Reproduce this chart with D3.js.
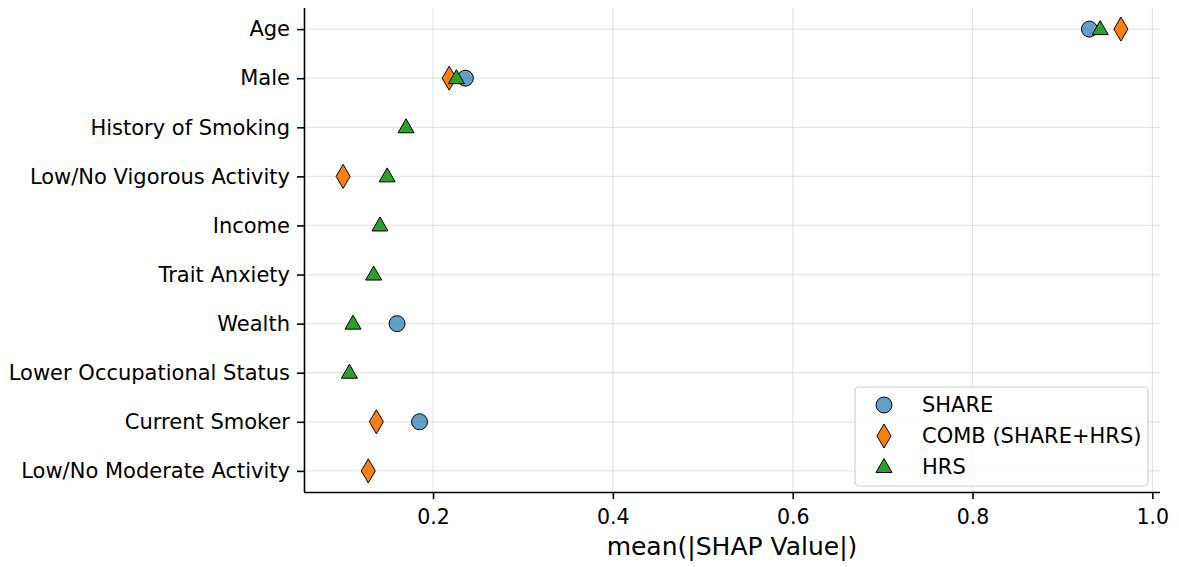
<!DOCTYPE html>
<html>
<head>
<meta charset="utf-8">
<script src="https://cdn.jsdelivr.net/npm/d3@7"></script>
<style>
  body { margin: 0; background: #fff; }
  text { font-family: "DejaVu Sans", sans-serif; fill: #000; }
</style>
</head>
<body>
<div id="viz"></div>
<script>
// features, top to bottom
var features = ['Age', 'Male', 'History of Smoking', 'Low/No Vigorous Activity', 'Income',
  'Trait Anxiety', 'Wealth', 'Lower Occupational Status', 'Current Smoker', 'Low/No Moderate Activity'];

// mean |SHAP| per cohort (null = not in that model's top list)
var shareVals = [0.930, 0.236, null, null, null, null, 0.160, null, 0.185, null];
var combVals  = [0.965, 0.218, null, 0.100, null, null, null, null, 0.137, 0.128];
var hrsVals   = [0.942, 0.226, 0.170, 0.149, 0.141, 0.134, 0.111, 0.107, null, null];

var xTicks = [0.2, 0.4, 0.6, 0.8, 1.0];
var seriesNames = ['SHARE', 'COMB (SHARE+HRS)', 'HRS'];

var w = 1179, h = 567;
var m = {top: 8, right: 19, bottom: 75, left: 304};

var svg = d3.select('#viz').append('svg')
  .attr('width', w)
  .attr('height', h);

var x = d3.scaleLinear()
  .domain([0.0565, 1.0085])
  .range([m.left, w - m.right]);

var y = d3.scalePoint()
  .domain(features)
  .range([m.top, h - m.bottom])
  .padding(0.43);

// grid
var g = svg.append('g');
g.selectAll('.vgrid').data(xTicks).enter().append('line')
  .attr('x1', d => x(d)).attr('x2', d => x(d))
  .attr('y1', m.top).attr('y2', h - m.bottom)
  .attr('stroke', '#b0b0b0').attr('stroke-opacity', 0.3).attr('stroke-width', 1.2);
g.selectAll('.hgrid').data(features).enter().append('line')
  .attr('x1', m.left).attr('x2', w - m.right)
  .attr('y1', d => y(d)).attr('y2', d => y(d))
  .attr('stroke', '#b0b0b0').attr('stroke-opacity', 0.3).attr('stroke-width', 1.2);

// axes
var xAxis = d3.axisBottom(x).tickValues(xTicks).tickFormat(d3.format('.1f')).tickSize(7).tickPadding(10);
var xg = svg.append('g')
  .attr('transform', 'translate(0,' + (h - m.bottom) + ')')
  .call(xAxis);
xg.select('.domain').attr('d', 'M' + m.left + ',0.5H' + (w - m.right)).attr('stroke-width', 1.6);
xg.selectAll('.tick line').attr('stroke-width', 1.6);
xg.selectAll('text').style('font-size', '20.5px').style('font-family', 'DejaVu Sans');

var yAxis = d3.axisLeft(y).tickSize(7).tickPadding(7);
var yg = svg.append('g')
  .attr('transform', 'translate(' + m.left + ',0)')
  .call(yAxis);
yg.select('.domain').attr('d', 'M0.5,' + m.top + 'V' + (h - m.bottom)).attr('stroke-width', 1.6);
yg.selectAll('.tick line').attr('stroke-width', 1.6);
yg.selectAll('text').style('font-size', '21px').style('font-family', 'DejaVu Sans');

svg.append('text')
  .attr('x', (m.left + w - m.right) / 2)
  .attr('y', 555)
  .attr('text-anchor', 'middle')
  .style('font-size', '25px')
  .text('mean(|SHAP Value|)');

// markers
var circleSym = d3.symbol().type(d3.symbolCircle).size(200);
var triPath = 'M0,-8.5L8,5.5L-8,5.5Z';
var diaPath = 'M0,-12L7,0L0,12L-7,0Z';

var series = [
  {name: seriesNames[0], vals: shareVals, fill: '#1f77b4', op: 0.7, path: circleSym()},
  {name: seriesNames[1], vals: combVals, fill: '#ff7f0e', op: 1, path: diaPath},
  {name: seriesNames[2], vals: hrsVals, fill: '#2ca02c', op: 1, path: triPath}
];

series.forEach(function(s) {
  var pts = features.map((f, i) => ({f: f, v: s.vals[i]})).filter(d => d.v != null);
  svg.append('g').selectAll('path').data(pts).enter().append('path')
    .attr('d', s.path)
    .attr('transform', d => 'translate(' + x(d.v) + ',' + y(d.f) + ')')
    .attr('fill', s.fill)
    .attr('fill-opacity', s.op)
    .attr('stroke', '#000')
    .attr('stroke-width', 1);
});

// legend
var lg = svg.append('g').attr('transform', 'translate(855,387)');
lg.append('rect')
  .attr('width', 293).attr('height', 99).attr('rx', 4)
  .attr('fill', '#fff').attr('fill-opacity', 0.8)
  .attr('stroke', '#d0d0d0').attr('stroke-width', 1.2);
series.forEach(function(s, i) {
  var ly = 18 + i * 31;
  lg.append('path')
    .attr('d', s.path)
    .attr('transform', 'translate(29,' + ly + ')')
    .attr('fill', s.fill).attr('fill-opacity', s.op)
    .attr('stroke', '#000').attr('stroke-width', 1);
  lg.append('text')
    .attr('x', 67).attr('y', ly + 7)
    .style('font-size', '21px')
    .text(s.name);
});
</script>
</body>
</html>
